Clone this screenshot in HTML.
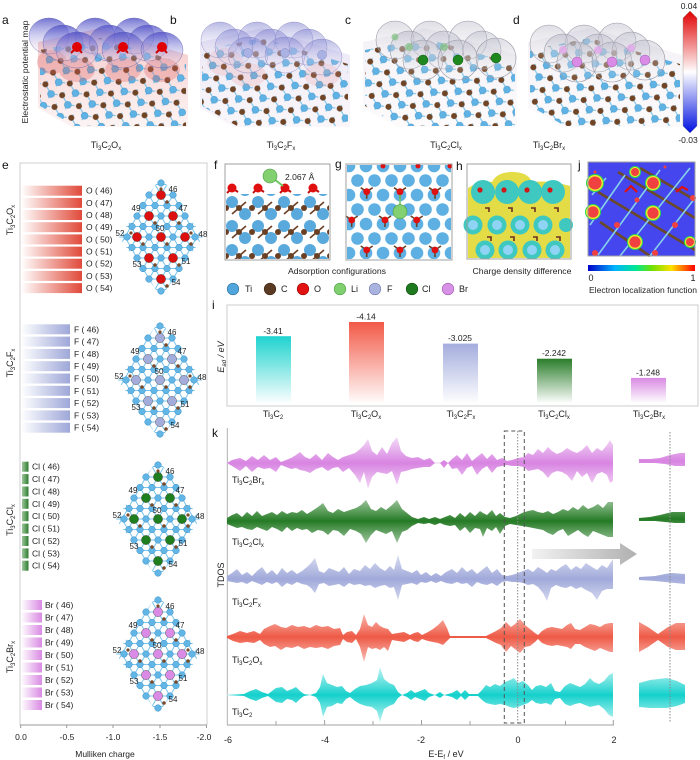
<!DOCTYPE html>
<html><head><meta charset="utf-8"><style>
html,body{margin:0;padding:0;background:#fff;}
svg{display:block;font-family:"Liberation Sans",Arial,sans-serif;}
</style></head><body>
<svg width="700" height="760" viewBox="0 0 700 760" xmlns="http://www.w3.org/2000/svg">
<defs>
<pattern id="slab" width="20" height="14" patternUnits="userSpaceOnUse" patternTransform="rotate(33)">
<path d="M4,4 L14,9 L24,4 M14,9 L14,18 M4,4 L4,-5" stroke="#79c3ec" stroke-width="1.2" fill="none"/>
<circle cx="4" cy="4" r="3" fill="#6f4527"/>
<circle cx="14" cy="9" r="3.5" fill="#5fb2e4" stroke="#3b8cc2" stroke-width="0.5"/>
</pattern>
<pattern id="fside" width="26" height="24" patternUnits="userSpaceOnUse" patternTransform="translate(226,196)">
<path d="M6,6 L13,12 L19,18 M20,6 L13,12 L6,18" stroke="#6a4025" stroke-width="1.6" fill="none"/>
<circle cx="6" cy="6" r="6" fill="#5aa9dc"/>
<circle cx="19" cy="18" r="6" fill="#5aa9dc"/>
<circle cx="13" cy="12" r="3" fill="#6a4025"/>
<circle cx="0" cy="12" r="3" fill="#6a4025"/>
<circle cx="26" cy="12" r="3" fill="#6a4025"/>
</pattern>
<pattern id="gtop" width="17" height="29" patternUnits="userSpaceOnUse" patternTransform="translate(349,166)">
<circle cx="0" cy="0" r="6.3" fill="#5fb0e2"/>
<circle cx="17" cy="0" r="6.3" fill="#5fb0e2"/>
<circle cx="0" cy="29" r="6.3" fill="#5fb0e2"/>
<circle cx="17" cy="29" r="6.3" fill="#5fb0e2"/>
<circle cx="8.5" cy="14.5" r="6.3" fill="#5fb0e2"/>
</pattern>
<linearGradient id="archA" x1="0" y1="0" x2="0" y2="1">
<stop offset="0" stop-color="#5050c8" stop-opacity="0.8"/><stop offset="0.5" stop-color="#9a9ae0" stop-opacity="0.45"/><stop offset="1" stop-color="#f0c0c8" stop-opacity="0.1"/></linearGradient>
<linearGradient id="archB" x1="0" y1="0" x2="0" y2="1">
<stop offset="0" stop-color="#8080d0" stop-opacity="0.55"/><stop offset="0.5" stop-color="#b8b8e6" stop-opacity="0.3"/><stop offset="1" stop-color="#f0dce6" stop-opacity="0.08"/></linearGradient>
<linearGradient id="archC" x1="0" y1="0" x2="0" y2="1">
<stop offset="0" stop-color="#b4b4c4" stop-opacity="0.45"/><stop offset="0.6" stop-color="#d8d8e0" stop-opacity="0.25"/><stop offset="1" stop-color="#f0f0f0" stop-opacity="0.05"/></linearGradient>
<linearGradient id="hazeA" x1="0" y1="0" x2="0" y2="1"><stop offset="0" stop-color="#e87878" stop-opacity="0.45"/><stop offset="1" stop-color="#f4d0d0" stop-opacity="0.25"/></linearGradient>
<linearGradient id="hazeB" x1="0" y1="0" x2="0" y2="1"><stop offset="0" stop-color="#c8c0e8" stop-opacity="0.4"/><stop offset="1" stop-color="#eadcea" stop-opacity="0.25"/></linearGradient>
<linearGradient id="hazeC" x1="0" y1="0" x2="0" y2="1"><stop offset="0" stop-color="#ddd6e4" stop-opacity="0.35"/><stop offset="1" stop-color="#efe6ea" stop-opacity="0.2"/></linearGradient>
<linearGradient id="cbar" x1="0" y1="0" x2="0" y2="1">
<stop offset="0" stop-color="#e00000"/><stop offset="0.5" stop-color="#ffffff"/><stop offset="1" stop-color="#0010e0"/></linearGradient>
<linearGradient id="rainbow" x1="0" y1="0" x2="1" y2="0">
<stop offset="0" stop-color="#0000c8"/><stop offset="0.25" stop-color="#00b4ff"/><stop offset="0.45" stop-color="#00e890"/><stop offset="0.6" stop-color="#70e000"/><stop offset="0.78" stop-color="#ffe000"/><stop offset="1" stop-color="#ff0000"/></linearGradient>
<linearGradient id="barO" x1="0" y1="0" x2="1" y2="0"><stop offset="0" stop-color="#e04a3a" stop-opacity="0"/><stop offset="1" stop-color="#e04a3a"/></linearGradient>
<linearGradient id="barF" x1="0" y1="0" x2="1" y2="0"><stop offset="0" stop-color="#9ea7d8" stop-opacity="0"/><stop offset="1" stop-color="#9ea7d8"/></linearGradient>
<linearGradient id="barCl" x1="0" y1="0" x2="1" y2="0"><stop offset="0" stop-color="#3c8c3c" stop-opacity="0.5"/><stop offset="1" stop-color="#2a7a2a"/></linearGradient>
<linearGradient id="barBr" x1="0" y1="0" x2="1" y2="0"><stop offset="0" stop-color="#d98ae3" stop-opacity="0"/><stop offset="1" stop-color="#d98ae3"/></linearGradient>
<linearGradient id="vTi" x1="0" y1="0" x2="0" y2="1"><stop offset="0" stop-color="#1fd3cf"/><stop offset="1" stop-color="#1fd3cf" stop-opacity="0.03"/></linearGradient>
<linearGradient id="vO" x1="0" y1="0" x2="0" y2="1"><stop offset="0" stop-color="#f25a48"/><stop offset="1" stop-color="#f25a48" stop-opacity="0.03"/></linearGradient>
<linearGradient id="vF" x1="0" y1="0" x2="0" y2="1"><stop offset="0" stop-color="#a4addd"/><stop offset="1" stop-color="#a4addd" stop-opacity="0.03"/></linearGradient>
<linearGradient id="vCl" x1="0" y1="0" x2="0" y2="1"><stop offset="0" stop-color="#2a7d2a"/><stop offset="1" stop-color="#2a7d2a" stop-opacity="0.03"/></linearGradient>
<linearGradient id="vBr" x1="0" y1="0" x2="0" y2="1"><stop offset="0" stop-color="#d98ae3"/><stop offset="1" stop-color="#d98ae3" stop-opacity="0.05"/></linearGradient>
<linearGradient id="dBr" gradientUnits="userSpaceOnUse" x1="0" y1="-26" x2="0" y2="26"><stop offset="0" stop-color="#dc90e4" stop-opacity="0.35"/><stop offset="0.5" stop-color="#d884e2"/><stop offset="1" stop-color="#dc90e4" stop-opacity="0.35"/></linearGradient>
<linearGradient id="dCl" gradientUnits="userSpaceOnUse" x1="0" y1="-24" x2="0" y2="24"><stop offset="0" stop-color="#3a8a3a" stop-opacity="0.45"/><stop offset="0.5" stop-color="#247a24"/><stop offset="1" stop-color="#3a8a3a" stop-opacity="0.45"/></linearGradient>
<linearGradient id="dF" gradientUnits="userSpaceOnUse" x1="0" y1="-26" x2="0" y2="26"><stop offset="0" stop-color="#a8b0de" stop-opacity="0.4"/><stop offset="0.5" stop-color="#a0a9da"/><stop offset="1" stop-color="#a8b0de" stop-opacity="0.4"/></linearGradient>
<linearGradient id="dO" gradientUnits="userSpaceOnUse" x1="0" y1="-26" x2="0" y2="26"><stop offset="0" stop-color="#f07060" stop-opacity="0.45"/><stop offset="0.5" stop-color="#ee5a46"/><stop offset="1" stop-color="#f07060" stop-opacity="0.45"/></linearGradient>
<linearGradient id="dTi" gradientUnits="userSpaceOnUse" x1="0" y1="-28" x2="0" y2="28"><stop offset="0" stop-color="#40dcd8" stop-opacity="0.35"/><stop offset="0.5" stop-color="#14d0cc"/><stop offset="1" stop-color="#40dcd8" stop-opacity="0.35"/></linearGradient>
<linearGradient id="arrowG" x1="0" y1="0" x2="1" y2="0"><stop offset="0" stop-color="#f2f2f2"/><stop offset="1" stop-color="#b0b0b0"/></linearGradient>
<clipPath id="dia"><polygon points="0,-60 42,0 0,60 -42,0"/></clipPath>
<g id="lat">
<path clip-path="url(#dia)" stroke="#78c4ec" stroke-width="1" fill="none" d="M-45,-52.5H45M-45,-42H45M-45,-31.5H45M-45,-21H45M-45,-10.5H45M-45,0H45M-45,10.5H45M-45,21H45M-45,31.5H45M-45,42H45M-45,52.5H45
M-108,-63L-36,63M-36,-63L-108,63M-96,-63L-24,63M-24,-63L-96,63M-84,-63L-12,63M-12,-63L-84,63M-72,-63L0,63M0,-63L-72,63M-60,-63L12,63M12,-63L-60,63M-48,-63L24,63M24,-63L-48,63M-36,-63L36,63M36,-63L-36,63M-24,-63L48,63M48,-63L-24,63M-12,-63L60,63M60,-63L-12,63M0,-63L72,63M72,-63L0,63M12,-63L84,63M84,-63L12,63M24,-63L96,63M96,-63L24,63M36,-63L108,63M108,-63L36,63"/>
<g fill="#62b6e6" stroke="#3d8fc4" stroke-width="0.5">
<circle cx="0" cy="0" r="3.3"/><circle cx="12" cy="0" r="3.3"/><circle cx="-12" cy="0" r="3.3"/><circle cx="24" cy="0" r="3.3"/><circle cx="-24" cy="0" r="3.3"/><circle cx="34" cy="0" r="3.3"/><circle cx="-34" cy="0" r="3.3"/>
<circle cx="6" cy="10.5" r="3.3"/><circle cx="-6" cy="10.5" r="3.3"/><circle cx="18" cy="10.5" r="3.3"/><circle cx="-18" cy="10.5" r="3.3"/><circle cx="29" cy="10.5" r="3.3"/><circle cx="-29" cy="10.5" r="3.3"/>
<circle cx="6" cy="-10.5" r="3.3"/><circle cx="-6" cy="-10.5" r="3.3"/><circle cx="18" cy="-10.5" r="3.3"/><circle cx="-18" cy="-10.5" r="3.3"/><circle cx="29" cy="-10.5" r="3.3"/><circle cx="-29" cy="-10.5" r="3.3"/>
<circle cx="0" cy="21" r="3.3"/><circle cx="12" cy="21" r="3.3"/><circle cx="-12" cy="21" r="3.3"/><circle cx="24" cy="21" r="3.3"/><circle cx="-24" cy="21" r="3.3"/>
<circle cx="0" cy="-21" r="3.3"/><circle cx="12" cy="-21" r="3.3"/><circle cx="-12" cy="-21" r="3.3"/><circle cx="24" cy="-21" r="3.3"/><circle cx="-24" cy="-21" r="3.3"/>
<circle cx="6" cy="31.5" r="3.3"/><circle cx="-6" cy="31.5" r="3.3"/><circle cx="18" cy="31.5" r="3.3"/><circle cx="-18" cy="31.5" r="3.3"/>
<circle cx="6" cy="-31.5" r="3.3"/><circle cx="-6" cy="-31.5" r="3.3"/><circle cx="18" cy="-31.5" r="3.3"/><circle cx="-18" cy="-31.5" r="3.3"/>
<circle cx="0" cy="42" r="3.3"/><circle cx="12" cy="42" r="3.3"/><circle cx="-12" cy="42" r="3.3"/>
<circle cx="0" cy="-42" r="3.3"/><circle cx="12" cy="-42" r="3.3"/><circle cx="-12" cy="-42" r="3.3"/>
<circle cx="0" cy="54" r="3.3"/><circle cx="0" cy="-54" r="3.3"/>
</g>
<g fill="#7a4a2a">
<circle cx="6" cy="-35" r="1.8"/><circle cx="-6" cy="-14" r="1.8"/><circle cx="18" cy="-14" r="1.8"/><circle cx="-18" cy="7" r="1.8"/><circle cx="6" cy="7" r="1.8"/><circle cx="30" cy="7" r="1.8"/><circle cx="-6" cy="28" r="1.8"/><circle cx="18" cy="28" r="1.8"/><circle cx="6" cy="49" r="1.8"/>
<circle cx="0" cy="-48" r="1.6"/><circle cx="-30" cy="-4" r="1.6"/><circle cx="30" cy="-4" r="1.6"/>
</g>
</g>
<g id="sites" stroke="#333" stroke-width="0.4">
<circle cx="0" cy="-42" r="4.6"/><circle cx="-12" cy="-21" r="4.6"/><circle cx="12" cy="-21" r="4.6"/><circle cx="-24" cy="0" r="4.6"/><circle cx="0" cy="0" r="4.6"/><circle cx="24" cy="0" r="4.6"/><circle cx="-12" cy="21" r="4.6"/><circle cx="12" cy="21" r="4.6"/><circle cx="0" cy="42" r="4.6"/>
</g>
<g id="nums" font-size="8" fill="#222" text-anchor="middle">
<text x="12" y="-45">46</text><text x="22" y="-26">47</text><text x="-25" y="-26">49</text><text x="-41" y="-1">52</text><text x="-1" y="-6">50</text><text x="42" y="0">48</text><text x="-24" y="30">53</text><text x="25" y="27">51</text><text x="15" y="48">54</text>
</g>
</defs>

<!-- ===== Top row a-d ===== -->
<g font-size="12" fill="#111">
<text x="2" y="24">a</text><text x="170" y="24">b</text><text x="345" y="24">c</text><text x="513" y="24">d</text>
</g>
<text transform="translate(28,72) rotate(-90)" text-anchor="middle" font-size="8.3" fill="#222" textLength="103" lengthAdjust="spacingAndGlyphs">Electrostatic potential map</text>

<!-- panel a -->
<g>
<polygon points="38,42 100,28 188,55 188,127 72,127 38,108" fill="url(#hazeA)"/>
<polygon points="40,50 100,38 186,64 186,126 75,126 40,106" fill="url(#slab)"/>
<g fill="#e06060" opacity="0.3"><ellipse cx="77" cy="70" rx="18" ry="12"/><ellipse cx="123" cy="70" rx="18" ry="12"/><ellipse cx="162" cy="70" rx="18" ry="12"/><ellipse cx="52" cy="62" rx="15" ry="12"/></g>
<g fill="url(#archA)" stroke="#6060b0" stroke-width="0.4">
<ellipse cx="49" cy="36" rx="20" ry="18"/><ellipse cx="95" cy="36" rx="20" ry="18"/><ellipse cx="134" cy="36" rx="20" ry="18"/>
<ellipse cx="63" cy="43" rx="20" ry="18"/><ellipse cx="109" cy="43" rx="20" ry="18"/><ellipse cx="148" cy="43" rx="20" ry="18"/>
<ellipse cx="77" cy="50" rx="21" ry="18"/><ellipse cx="123" cy="50" rx="21" ry="18"/><ellipse cx="162" cy="50" rx="21" ry="18"/>
</g>
<g stroke="#c00" stroke-width="2"><path d="M77,47 l-6,6 M77,47 l5,6 M123,47 l-6,6 M123,47 l5,6 M162,47 l-6,6 M162,47 l5,6"/></g>
<g fill="#e00000"><circle cx="77" cy="47" r="5"/><circle cx="123" cy="47" r="5"/><circle cx="162" cy="47" r="5"/></g>
</g>
<!-- panel b -->
<g>
<polygon points="200,42 262,28 350,55 350,127 234,127 200,108" fill="url(#hazeB)"/>
<polygon points="202,50 262,38 348,64 348,126 237,126 202,106" fill="url(#slab)"/>
<g fill="#e89090" opacity="0.2"><ellipse cx="225" cy="62" rx="18" ry="14"/><ellipse cx="248" cy="75" rx="18" ry="12"/><ellipse cx="322" cy="75" rx="18" ry="12"/></g>
<g fill="url(#archB)" stroke="#8080c0" stroke-width="0.4">
<ellipse cx="220" cy="40" rx="19" ry="18"/><ellipse cx="257" cy="40" rx="19" ry="18"/><ellipse cx="294" cy="40" rx="19" ry="18"/>
<ellipse cx="234" cy="47" rx="19" ry="18"/><ellipse cx="271" cy="47" rx="19" ry="18"/><ellipse cx="308" cy="47" rx="19" ry="18"/>
<ellipse cx="248" cy="55" rx="20" ry="18"/><ellipse cx="285" cy="55" rx="20" ry="18"/><ellipse cx="322" cy="57" rx="20" ry="18"/>
</g>
<g fill="#a9b2e2" stroke="#7f88c0" stroke-width="0.5"><circle cx="248" cy="53" r="4.5"/><circle cx="285" cy="53" r="4.5"/><circle cx="322" cy="55" r="4.5"/></g>
</g>
<!-- panel c -->
<g>
<polygon points="363,42 425,28 517,55 517,127 398,127 363,108" fill="url(#hazeC)"/>
<polygon points="365,50 425,38 515,64 515,126 400,126 365,106" fill="url(#slab)"/>
<g fill="url(#archC)" stroke="#9a9aa8" stroke-width="0.6">
<ellipse cx="395" cy="40" rx="19" ry="19"/><ellipse cx="430" cy="40" rx="19" ry="19"/><ellipse cx="468" cy="40" rx="19" ry="19"/>
<ellipse cx="409" cy="50" rx="19" ry="19"/><ellipse cx="444" cy="50" rx="19" ry="19"/><ellipse cx="482" cy="50" rx="19" ry="19"/>
<ellipse cx="423" cy="60" rx="20" ry="20"/><ellipse cx="458" cy="60" rx="20" ry="20"/><ellipse cx="496" cy="58" rx="20" ry="20"/>
</g>
<g fill="#7fc07f" opacity="0.7"><circle cx="409" cy="47" r="4"/><circle cx="444" cy="47" r="4"/><circle cx="395" cy="37" r="3.5"/></g>
<g fill="#1e871e" stroke="#0d5a0d" stroke-width="0.5"><circle cx="423" cy="60" r="5"/><circle cx="458" cy="60" r="5"/><circle cx="496" cy="58" r="5"/></g>
</g>
<!-- panel d -->
<g>
<polygon points="528,42 590,28 682,55 682,127 563,127 528,108" fill="url(#hazeC)"/>
<polygon points="530,50 590,38 680,64 680,126 565,126 530,106" fill="url(#slab)"/>
<g fill="url(#archC)" stroke="#9a9aa8" stroke-width="0.6">
<ellipse cx="549" cy="44" rx="19" ry="19"/><ellipse cx="584" cy="44" rx="19" ry="19"/><ellipse cx="617" cy="42" rx="19" ry="19"/>
<ellipse cx="563" cy="53" rx="19" ry="19"/><ellipse cx="598" cy="53" rx="19" ry="19"/><ellipse cx="631" cy="51" rx="19" ry="19"/>
<ellipse cx="577" cy="62" rx="20" ry="20"/><ellipse cx="612" cy="62" rx="20" ry="20"/><ellipse cx="645" cy="60" rx="20" ry="20"/>
</g>
<g fill="#e4a8ec" opacity="0.8"><circle cx="563" cy="50" r="4"/><circle cx="598" cy="50" r="4"/><circle cx="631" cy="48" r="4"/></g>
<g fill="#d98be6" stroke="#a05aa8" stroke-width="0.5"><circle cx="577" cy="62" r="5"/><circle cx="612" cy="62" r="5"/><circle cx="645" cy="60" r="5"/></g>
</g>
<!-- labels -->
<g font-size="9" fill="#222" text-anchor="middle">
<text x="106" y="148">Ti<tspan font-size="6" dy="2">3</tspan><tspan dy="-2">C</tspan><tspan font-size="6" dy="2">2</tspan><tspan dy="-2">O</tspan><tspan font-size="6" dy="2">x</tspan></text>
<text x="281" y="148">Ti<tspan font-size="6" dy="2">3</tspan><tspan dy="-2">C</tspan><tspan font-size="6" dy="2">2</tspan><tspan dy="-2">F</tspan><tspan font-size="6" dy="2">x</tspan></text>
<text x="446" y="148">Ti<tspan font-size="6" dy="2">3</tspan><tspan dy="-2">C</tspan><tspan font-size="6" dy="2">2</tspan><tspan dy="-2">Cl</tspan><tspan font-size="6" dy="2">x</tspan></text>
<text x="549" y="148">Ti<tspan font-size="6" dy="2">3</tspan><tspan dy="-2">C</tspan><tspan font-size="6" dy="2">2</tspan><tspan dy="-2">Br</tspan><tspan font-size="6" dy="2">x</tspan></text>
</g>
<!-- colorbar -->
<path d="M683,18 L690,11 L697,18 L697,126 L690,133 L683,126 Z" fill="url(#cbar)" stroke="#888" stroke-width="0.4"/>
<g font-size="8.5" fill="#222" text-anchor="middle"><text x="689" y="9">0.04</text><text x="688" y="143">-0.03</text></g>

<!-- ===== Panel e ===== -->
<text x="2" y="169" font-size="12" fill="#111">e</text>
<path d="M20,725 V163 H207 V725" fill="none" stroke="#cfcfcf" stroke-width="1"/>
<line x1="20" y1="725" x2="207" y2="725" stroke="#9a9a9a" stroke-width="1"/>
<g stroke="#9a9a9a" stroke-width="1"><line x1="20.7" y1="725" x2="20.7" y2="728"/><line x1="66.7" y1="725" x2="66.7" y2="728"/><line x1="113" y1="725" x2="113" y2="728"/><line x1="160" y1="725" x2="160" y2="728"/><line x1="206.5" y1="725" x2="206.5" y2="728"/></g>
<g font-size="8.5" fill="#222" text-anchor="middle"><text x="21" y="740">0.0</text><text x="67" y="740">-0.5</text><text x="113" y="740">-1.0</text><text x="160" y="740">-1.5</text><text x="204" y="740">-2.0</text></g>
<text x="105" y="757" font-size="8.5" fill="#222" text-anchor="middle">Mulliken charge</text>

<g font-size="9" fill="#222" text-anchor="middle">
<text transform="translate(13,220) rotate(-90)">Ti<tspan font-size="6" dy="2">3</tspan><tspan dy="-2">C</tspan><tspan font-size="6" dy="2">2</tspan><tspan dy="-2">O</tspan><tspan font-size="6" dy="2">x</tspan></text>
<text transform="translate(13,363) rotate(-90)">Ti<tspan font-size="6" dy="2">3</tspan><tspan dy="-2">C</tspan><tspan font-size="6" dy="2">2</tspan><tspan dy="-2">F</tspan><tspan font-size="6" dy="2">x</tspan></text>
<text transform="translate(13,520) rotate(-90)">Ti<tspan font-size="6" dy="2">3</tspan><tspan dy="-2">C</tspan><tspan font-size="6" dy="2">2</tspan><tspan dy="-2">Cl</tspan><tspan font-size="6" dy="2">x</tspan></text>
<text transform="translate(13,657) rotate(-90)">Ti<tspan font-size="6" dy="2">3</tspan><tspan dy="-2">C</tspan><tspan font-size="6" dy="2">2</tspan><tspan dy="-2">Br</tspan><tspan font-size="6" dy="2">x</tspan></text>
</g>

<!-- O bars -->
<g fill="url(#barO)">
<rect x="21" y="185.7" width="61" height="10"/><rect x="21" y="197.9" width="61" height="10"/><rect x="21" y="210" width="61" height="10"/><rect x="21" y="222.2" width="61" height="10"/><rect x="21" y="234.4" width="61" height="10"/><rect x="21" y="246.6" width="61" height="10"/><rect x="21" y="258.7" width="61" height="10"/><rect x="21" y="270.9" width="61" height="10"/><rect x="21" y="283.1" width="61" height="10"/>
</g>
<g font-size="8.5" fill="#222">
<text x="86" y="193.7">O ( 46)</text><text x="86" y="205.9">O ( 47)</text><text x="86" y="218">O ( 48)</text><text x="86" y="230.2">O ( 49)</text><text x="86" y="242.4">O ( 50)</text><text x="86" y="254.6">O ( 51)</text><text x="86" y="266.7">O ( 52)</text><text x="86" y="278.9">O ( 53)</text><text x="86" y="291.1">O ( 54)</text>
</g>
<!-- F bars -->
<g fill="url(#barF)">
<rect x="21" y="324.3" width="49" height="10"/><rect x="21" y="336.6" width="49" height="10"/><rect x="21" y="348.9" width="49" height="10"/><rect x="21" y="361.2" width="49" height="10"/><rect x="21" y="373.5" width="49" height="10"/><rect x="21" y="385.8" width="49" height="10"/><rect x="21" y="398.1" width="49" height="10"/><rect x="21" y="410.4" width="49" height="10"/><rect x="21" y="422.7" width="49" height="10"/>
</g>
<g font-size="8.5" fill="#222">
<text x="74" y="332.3">F ( 46)</text><text x="74" y="344.6">F ( 47)</text><text x="74" y="356.9">F ( 48)</text><text x="74" y="369.2">F ( 49)</text><text x="74" y="381.5">F ( 50)</text><text x="74" y="393.8">F ( 51)</text><text x="74" y="406.1">F ( 52)</text><text x="74" y="418.4">F ( 53)</text><text x="74" y="430.7">F ( 54)</text>
</g>
<!-- Cl bars -->
<g fill="url(#barCl)">
<rect x="22" y="461.7" width="6.5" height="10"/><rect x="22" y="474.1" width="6.5" height="10"/><rect x="22" y="486.5" width="6.5" height="10"/><rect x="22" y="498.8" width="6.5" height="10"/><rect x="22" y="511.2" width="6.5" height="10"/><rect x="22" y="523.6" width="6.5" height="10"/><rect x="22" y="536" width="6.5" height="10"/><rect x="22" y="548.4" width="6.5" height="10"/><rect x="22" y="560.7" width="6.5" height="10"/>
</g>
<g font-size="8.5" fill="#222">
<text x="32" y="469.7">Cl ( 46)</text><text x="32" y="482.1">Cl ( 47)</text><text x="32" y="494.5">Cl ( 48)</text><text x="32" y="506.8">Cl ( 49)</text><text x="32" y="519.2">Cl ( 50)</text><text x="32" y="531.6">Cl ( 51)</text><text x="32" y="544">Cl ( 52)</text><text x="32" y="556.4">Cl ( 53)</text><text x="32" y="568.7">Cl ( 54)</text>
</g>
<!-- Br bars -->
<g fill="url(#barBr)">
<rect x="21" y="600" width="21" height="10"/><rect x="21" y="612.5" width="21" height="10"/><rect x="21" y="625" width="21" height="10"/><rect x="21" y="637.5" width="21" height="10"/><rect x="21" y="650" width="21" height="10"/><rect x="21" y="662.5" width="21" height="10"/><rect x="21" y="675" width="21" height="10"/><rect x="21" y="687.5" width="21" height="10"/><rect x="21" y="700" width="21" height="10"/>
</g>
<g font-size="8.5" fill="#222">
<text x="45" y="608">Br ( 46)</text><text x="45" y="620.5">Br ( 47)</text><text x="45" y="633">Br ( 48)</text><text x="45" y="645.5">Br ( 49)</text><text x="45" y="658">Br ( 50)</text><text x="45" y="670.5">Br ( 51)</text><text x="45" y="683">Br ( 52)</text><text x="45" y="695.5">Br ( 53)</text><text x="45" y="708">Br ( 54)</text>
</g>
<!-- lattices -->
<g transform="translate(161,237)"><use href="#lat"/><use href="#sites" fill="#dd1010"/><use href="#nums"/></g>
<g transform="translate(160,380)"><use href="#lat"/><use href="#sites" fill="#a4acdc"/><use href="#nums"/></g>
<g transform="translate(158,519)"><use href="#lat"/><use href="#sites" fill="#1f7f1f"/><use href="#nums"/></g>
<g transform="translate(158,654)"><use href="#lat"/><use href="#sites" fill="#d98be6"/><use href="#nums"/></g>

<!-- ===== Panels f g h j ===== -->
<g font-size="12" fill="#111">
<text x="214" y="169">f</text><text x="335" y="168">g</text><text x="456" y="170">h</text><text x="578" y="169">j</text>
</g>
<!-- f -->
<rect x="225" y="164" width="105" height="96" fill="#fff"/>
<rect x="226" y="194" width="103" height="65" fill="url(#fside)"/>
<g stroke="#c01010" stroke-width="2"><path d="M232,188 l-5,5 M232,188 l6,4 M258,188 l-5,5 M258,188 l6,4 M285,188 l-5,5 M285,188 l6,4 M313,188 l-5,5 M313,188 l6,4"/></g>
<g fill="#e01010"><circle cx="232" cy="188" r="4.5"/><circle cx="258" cy="188" r="4.5"/><circle cx="285" cy="188" r="4.5"/><circle cx="313" cy="188" r="4.5"/></g>
<line x1="270" y1="176" x2="283" y2="186" stroke="#6cc860" stroke-width="2"/>
<circle cx="270" cy="176" r="7" fill="#82d070" stroke="#4a9a40" stroke-width="0.6"/>
<text x="285" y="180" font-size="8.5" fill="#222">2.067 Å</text>
<rect x="225" y="164" width="105" height="96" fill="none" stroke="#a0a0a0" stroke-width="1"/>
<!-- g -->
<rect x="346" y="164" width="106" height="96" fill="#fff"/>
<rect x="347" y="165" width="104" height="94" fill="url(#gtop)"/>
<g stroke="#6a4025" stroke-width="1.6">
<path d="M366.7,191.7 l-6,-4 m6,4 l6,-4 m-6,4 l0,7 M400,191.7 l-6,-4 m6,4 l6,-4 m-6,4 l0,7 M435,191.7 l-6,-4 m6,4 l6,-4 m-6,4 l0,7 M351.7,220 l-6,-4 m6,4 l6,-4 m-6,4 l0,7 M385,220 l-6,-4 m6,4 l6,-4 m-6,4 l0,7 M416.7,220 l-6,-4 m6,4 l6,-4 m-6,4 l0,7 M366.7,250 l-6,-4 m6,4 l6,-4 m-6,4 l0,7 M400,250 l-6,-4 m6,4 l6,-4 m-6,4 l0,7 M435,250 l-6,-4 m6,4 l6,-4 m-6,4 l0,7"/>
</g>
<g fill="#e01010"><circle cx="366.7" cy="191.7" r="3.4"/><circle cx="400" cy="191.7" r="3.4"/><circle cx="435" cy="191.7" r="3.4"/><circle cx="351.7" cy="220" r="3.4"/><circle cx="385" cy="220" r="3.4"/><circle cx="416.7" cy="220" r="3.4"/><circle cx="366.7" cy="250" r="3.4"/><circle cx="400" cy="250" r="3.4"/><circle cx="435" cy="250" r="3.4"/><circle cx="383" cy="166" r="2.5"/><circle cx="418" cy="166" r="2.5"/><circle cx="450" cy="166" r="2.5"/></g>
<line x1="400" y1="211" x2="400" y2="195" stroke="#6cc860" stroke-width="1.5"/>
<circle cx="400" cy="211.7" r="7" fill="#82d070" stroke="#4a9a40" stroke-width="0.6"/>
<rect x="346" y="164" width="106" height="96" fill="none" stroke="#a0a0a0" stroke-width="1"/>
<!-- h -->
<rect x="467" y="164" width="104" height="95" fill="#fff"/>
<path d="M468,258 L468,188 Q480,180 492,182 Q497,172 512,172 Q528,172 532,182 Q550,180 570,186 L570,258 Z" fill="#e4dc46"/>
<g fill="#3ec8c0"><circle cx="483" cy="192" r="12"/><circle cx="507" cy="192" r="12"/><circle cx="530" cy="192" r="12"/><circle cx="553" cy="192" r="12"/>
<circle cx="473" cy="225" r="9.5"/><circle cx="497" cy="225" r="9.5"/><circle cx="520" cy="225" r="9.5"/><circle cx="543" cy="225" r="9.5"/><circle cx="566" cy="225" r="7"/>
<circle cx="485" cy="250" r="9.5"/><circle cx="508" cy="250" r="9.5"/><circle cx="532" cy="250" r="9.5"/><circle cx="555" cy="250" r="9.5"/></g>
<g fill="#8fd4f4"><circle cx="473" cy="225" r="5"/><circle cx="497" cy="225" r="5"/><circle cx="520" cy="225" r="5"/><circle cx="543" cy="225" r="5"/><circle cx="485" cy="250" r="5"/><circle cx="508" cy="250" r="5"/><circle cx="532" cy="250" r="5"/><circle cx="555" cy="250" r="5"/></g>
<g fill="#d01818"><circle cx="480" cy="190" r="2.6"/><circle cx="504" cy="190" r="2.6"/><circle cx="527" cy="190" r="2.6"/><circle cx="550" cy="190" r="2.6"/></g>
<g fill="none" stroke="#6a3020" stroke-width="1.6"><path d="M485,208 h4 v4 M508,208 h4 v4 M531,208 h4 v4 M554,208 h4 v4 M487,237 h4 v4 M510,237 h4 v4 M533,237 h4 v4 M556,237 h4 v4"/></g>
<rect x="467" y="164" width="104" height="95" fill="none" stroke="#a0a0a0" stroke-width="1"/>
<!-- j -->
<rect x="588" y="162" width="107" height="94" fill="#4646ee"/>
<g stroke-width="2.6" fill="none">
<path stroke="#6a4a2a" d="M598,192 L695,250 M600,222 L650,256 M618,172 L695,218 M640,168 L695,200"/>
<path stroke="#86d0ea" stroke-width="1.6" d="M598,255 L660,170 M620,256 L690,168 M650,256 L695,198 M590,225 L625,175 M592,195 L606,178"/>
</g>
<g>
<g fill="#2ad850"><circle cx="595" cy="183" r="9"/><circle cx="653" cy="183" r="8"/><circle cx="593" cy="212" r="8"/><circle cx="653" cy="213" r="8"/><circle cx="635" cy="242" r="8"/><circle cx="690" cy="242" r="6"/><circle cx="635" cy="172" r="6"/></g>
<g fill="#f0e830"><circle cx="595" cy="183" r="8"/><circle cx="653" cy="183" r="7"/><circle cx="593" cy="212" r="7"/><circle cx="653" cy="213" r="7"/><circle cx="635" cy="242" r="7"/><circle cx="690" cy="242" r="5"/><circle cx="635" cy="172" r="5"/></g>
<g fill="#f04040"><circle cx="595" cy="183" r="6.5"/><circle cx="653" cy="183" r="5.8"/><circle cx="593" cy="212" r="5.6"/><circle cx="653" cy="213" r="5.6"/><circle cx="635" cy="242" r="5.6"/><circle cx="690" cy="242" r="4"/><circle cx="635" cy="172" r="4"/>
<circle cx="617" cy="225" r="3"/><circle cx="675" cy="225" r="3"/><circle cx="595" cy="253" r="3"/><circle cx="655" cy="253" r="3"/><circle cx="693" cy="198" r="3"/><circle cx="637" cy="200" r="2.5"/><circle cx="665" cy="167" r="1.5"/><circle cx="595" cy="172" r="1.5"/></g>
<path d="M625,192 l6,-6 l6,6 M676,192 l6,-5 l6,3" stroke="#e01010" stroke-width="2.2" fill="none"/>
</g>
<rect x="588" y="162" width="107" height="94" fill="none" stroke="#a0a0a0" stroke-width="1"/>
<rect x="588" y="265" width="107" height="6" fill="url(#rainbow)"/>
<g font-size="9" fill="#222" text-anchor="middle"><text x="591" y="281">0</text><text x="693" y="281">1</text></g>
<text x="643" y="293" font-size="8.2" fill="#222" text-anchor="middle" textLength="108" lengthAdjust="spacingAndGlyphs">Electron localization function</text>
<text x="337" y="274" font-size="8.2" fill="#222" text-anchor="middle" textLength="98" lengthAdjust="spacingAndGlyphs">Adsorption configurations</text>
<text x="522" y="274" font-size="8.2" fill="#222" text-anchor="middle" textLength="99" lengthAdjust="spacingAndGlyphs">Charge density difference</text>
<!-- legend -->
<g stroke-width="0.6">
<circle cx="233" cy="289" r="5.8" fill="#4fa5dc" stroke="#2d6f9a"/>
<circle cx="270" cy="289" r="5.8" fill="#5a3a22" stroke="#3a2412"/>
<circle cx="303" cy="289" r="5.8" fill="#e21212" stroke="#900"/>
<circle cx="340" cy="289" r="5.8" fill="#80d070" stroke="#4a9a40"/>
<circle cx="375" cy="289" r="5.8" fill="#aab2e0" stroke="#7078a8"/>
<circle cx="412" cy="289" r="5.8" fill="#1f7a1f" stroke="#0d4a0d"/>
<circle cx="448" cy="289" r="5.8" fill="#d891e6" stroke="#9a58a8"/>
</g>
<g font-size="9" fill="#222">
<text x="245" y="292">Ti</text><text x="281" y="292">C</text><text x="314" y="292">O</text><text x="351" y="292">Li</text><text x="387" y="292">F</text><text x="422" y="292">Cl</text><text x="459" y="292">Br</text>
</g>

<!-- ===== Panel i ===== -->
<text x="212" y="309" font-size="12" fill="#111">i</text>
<rect x="227" y="305" width="471" height="101" fill="none" stroke="#cccccc" stroke-width="1"/>
<text transform="translate(224,357) rotate(-90)" font-size="9" fill="#222" text-anchor="middle" font-style="italic">E<tspan font-size="6" dy="2">ad</tspan><tspan dy="-2"> / eV</tspan></text>
<rect x="256" y="336.2" width="35" height="65.8" fill="url(#vTi)"/>
<rect x="349" y="322" width="35" height="80" fill="url(#vO)"/>
<rect x="443" y="343.6" width="35" height="58.4" fill="url(#vF)"/>
<rect x="537" y="358.7" width="35" height="43.3" fill="url(#vCl)"/>
<rect x="631" y="377.9" width="35" height="24.1" fill="url(#vBr)"/>
<g font-size="8.5" fill="#222" text-anchor="middle">
<text x="273" y="334">-3.41</text><text x="366" y="319.5">-4.14</text><text x="460" y="341">-3.025</text><text x="554" y="356">-2.242</text><text x="648" y="375.5">-1.248</text>
</g>
<g font-size="9" fill="#222" text-anchor="middle">
<text x="273" y="417">Ti<tspan font-size="6" dy="2">3</tspan><tspan dy="-2">C</tspan><tspan font-size="6" dy="2">2</tspan></text>
<text x="366" y="417">Ti<tspan font-size="6" dy="2">3</tspan><tspan dy="-2">C</tspan><tspan font-size="6" dy="2">2</tspan><tspan dy="-2">O</tspan><tspan font-size="6" dy="2">x</tspan></text>
<text x="461" y="417">Ti<tspan font-size="6" dy="2">3</tspan><tspan dy="-2">C</tspan><tspan font-size="6" dy="2">2</tspan><tspan dy="-2">F</tspan><tspan font-size="6" dy="2">x</tspan></text>
<text x="554" y="417">Ti<tspan font-size="6" dy="2">3</tspan><tspan dy="-2">C</tspan><tspan font-size="6" dy="2">2</tspan><tspan dy="-2">Cl</tspan><tspan font-size="6" dy="2">x</tspan></text>
<text x="649" y="417">Ti<tspan font-size="6" dy="2">3</tspan><tspan dy="-2">C</tspan><tspan font-size="6" dy="2">2</tspan><tspan dy="-2">Br</tspan><tspan font-size="6" dy="2">x</tspan></text>
</g>

<!-- ===== Panel k ===== -->
<text x="212" y="437" font-size="12" fill="#111">k</text>
<line x1="227.3" y1="428" x2="227.3" y2="725" stroke="#b0b0b0" stroke-width="1"/>
<line x1="227" y1="725" x2="614" y2="725" stroke="#a0a0a0" stroke-width="1"/>
<g stroke="#a0a0a0" stroke-width="1">
<line x1="276" y1="725" x2="276" y2="721"/><line x1="324.6" y1="725" x2="324.6" y2="720"/><line x1="373" y1="725" x2="373" y2="721"/><line x1="421.5" y1="725" x2="421.5" y2="720"/><line x1="470" y1="725" x2="470" y2="721"/><line x1="565.5" y1="725" x2="565.5" y2="721"/><line x1="613.3" y1="725" x2="613.3" y2="720"/>
</g>
<g font-size="9" fill="#222" text-anchor="middle">
<text x="228" y="743">-6</text><text x="325" y="743">-4</text><text x="421" y="743">-2</text><text x="518" y="743">0</text><text x="614" y="743">2</text>
</g>
<text x="446" y="757" font-size="9" fill="#222" text-anchor="middle">E-E<tspan font-size="6" dy="2">f</tspan><tspan dy="-2"> / eV</tspan></text>
<text transform="translate(224,575) rotate(-90)" font-size="9" fill="#222" text-anchor="middle">TDOS</text>

<!-- baselines -->
<g stroke-width="1">
<line x1="227" y1="463" x2="613" y2="463" stroke="#eed4f2"/>
<line x1="227" y1="521" x2="613" y2="521" stroke="#cfe3cf"/>
<line x1="227" y1="579" x2="613" y2="579" stroke="#dde0f2"/>
<line x1="227" y1="637" x2="613" y2="637" stroke="#f5d6d0"/>
<line x1="227" y1="695" x2="613" y2="695" stroke="#d0f0ef"/>
</g>
<!-- Br -->
<g transform="translate(0,463)" fill="url(#dBr)">
<path d="M227,0 L232,-3 L240,-5 L246,-2 L252,-7 L258,-3 L264,-8 L270,-3 L276,-6 L281,-1 L286,-3 L291,-5 L296,-8 L300,-11 L305,-6 L310,-4 L316,-9 L322,-3 L328,-10 L333,-6 L338,-3 L343,-6 L349,-8 L355,-10 L360,-14 L364,-18 L368,-24 L372,-12 L377,-8 L382,-16 L387,-9 L392,-20 L397,-26 L401,-12 L406,-7 L412,-5 L418,-6 L424,-3 L430,-5 L435,0 L440,0 L444,-3 L448,0 L452,-4 L457,-8 L462,-3 L467,-10 L472,-2 L477,-6 L482,-10 L487,-4 L492,-9 L497,-3 L502,-5 L507,-2 L512,-3 L518,-5 L524,-6 L528,-10 L533,-8 L538,-14 L543,-10 L548,-16 L552,-12 L557,-9 L562,-11 L567,-15 L572,-12 L577,-10 L582,-13 L587,-18 L592,-10 L597,-15 L602,-12 L607,-18 L610,-23 L613,-18 L613,0 Z"/>
<path d="M227,0 L232,3 L240,8 L246,3 L252,9 L258,4 L264,6 L270,5 L276,9 L281,2 L286,4 L291,6 L296,5 L300,7 L305,8 L310,10 L316,6 L322,4 L328,8 L333,5 L338,4 L343,9 L349,5 L355,12 L360,20 L364,9 L368,26 L372,14 L377,9 L382,10 L387,11 L392,8 L397,22 L401,9 L406,8 L412,6 L418,5 L424,4 L430,4 L435,0 L440,0 L444,5 L448,0 L452,6 L457,5 L462,12 L467,5 L472,3 L477,12 L482,6 L487,3 L492,10 L497,4 L502,3 L507,2 L512,3 L518,3 L524,4 L528,8 L533,7 L538,6 L543,9 L548,15 L552,10 L557,8 L562,9 L567,12 L572,18 L577,8 L582,14 L587,10 L592,20 L597,11 L602,9 L607,12 L610,20 L613,18 L613,0 Z"/>
</g>
<!-- Cl -->
<g transform="translate(0,521)" fill="url(#dCl)">
<path d="M227,0 L227,-3 L232,-6 L237,-8 L242,-4 L247,-9 L252,-5 L257,-10 L262,-5 L267,-7 L272,-9 L277,-6 L282,-10 L287,-7 L292,-9 L297,-8 L302,-11 L307,-7 L312,-10 L318,-14 L323,-18 L328,-10 L333,-8 L338,-12 L344,-9 L350,-11 L356,-13 L361,-16 L366,-21 L371,-12 L376,-10 L381,-14 L386,-11 L392,-16 L397,-21 L402,-12 L407,-8 L412,-4 L418,-2 L424,-4 L429,-2 L435,-4 L440,-2 L445,-4 L450,-6 L455,-3 L460,-8 L465,-4 L470,-9 L475,-5 L480,-10 L483,-8 L487,-6 L492,-11 L496,-5 L500,-8 L505,-4 L510,-3 L516,-5 L522,-8 L528,-10 L533,-11 L538,-9 L543,-8 L548,-10 L553,-7 L558,-9 L563,-12 L568,-10 L573,-14 L578,-11 L583,-16 L588,-12 L593,-14 L598,-17 L603,-13 L608,-19 L613,-19 L613,0 Z"/>
<path d="M227,0 L227,3 L232,5 L237,7 L242,6 L247,8 L252,9 L257,6 L262,8 L267,10 L272,6 L277,8 L282,11 L287,6 L292,10 L297,7 L302,9 L307,8 L312,12 L318,9 L323,10 L328,14 L333,9 L338,10 L344,15 L350,8 L356,10 L361,13 L366,22 L371,14 L376,9 L381,11 L386,13 L392,10 L397,22 L402,11 L407,9 L412,5 L418,2 L424,3 L429,2 L435,4 L440,2 L445,4 L450,5 L455,4 L460,10 L465,6 L470,12 L475,7 L480,8 L483,16 L487,7 L492,10 L496,6 L500,13 L505,5 L510,3 L516,4 L522,5 L528,6 L533,7 L538,8 L543,9 L548,12 L553,14 L558,10 L563,8 L568,15 L573,12 L578,9 L583,13 L588,16 L593,10 L598,12 L603,14 L608,16 L613,16 L613,0 Z"/>
</g>
<!-- F -->
<g transform="translate(0,579)" fill="url(#dF)">
<path d="M227,0 L227,-3 L232,-6 L237,-10 L242,-4 L247,-7 L252,-3 L257,-8 L262,-12 L267,-5 L272,-9 L277,-4 L282,-11 L287,-6 L292,-9 L297,-5 L302,-8 L307,-12 L311,-16 L315,-21 L319,-8 L324,-6 L329,-11 L334,-9 L339,-7 L344,-12 L349,-5 L354,-10 L360,-8 L365,-14 L370,-10 L375,-16 L380,-11 L385,-8 L390,-13 L394,-9 L398,-24 L402,-10 L407,-8 L412,-6 L417,-9 L421,-4 L426,-7 L431,-3 L436,-6 L441,-3 L446,-7 L452,-10 L457,-6 L462,-12 L467,-7 L472,-10 L477,-5 L482,-9 L487,-13 L492,-6 L497,-10 L502,-4 L507,-3 L512,-4 L518,-6 L523,-8 L528,-10 L533,-7 L538,-12 L543,-9 L547,-6 L551,-10 L556,-8 L561,-12 L566,-15 L571,-9 L576,-13 L581,-10 L586,-16 L592,-12 L597,-9 L602,-14 L607,-11 L613,-20 L613,0 Z"/>
<path d="M227,0 L227,2 L232,3 L237,4 L242,3 L247,5 L252,2 L257,4 L262,6 L267,3 L272,5 L277,3 L282,8 L287,4 L292,6 L297,3 L302,5 L307,6 L311,9 L315,14 L319,5 L324,4 L329,7 L334,6 L339,5 L344,8 L349,4 L354,6 L360,5 L365,7 L370,6 L375,9 L380,7 L385,6 L390,9 L394,8 L398,21 L402,6 L407,5 L412,4 L417,6 L421,3 L426,4 L431,2 L436,4 L441,2 L446,4 L452,5 L457,3 L462,5 L467,4 L472,8 L477,3 L482,5 L487,6 L492,4 L497,7 L502,3 L507,2 L512,3 L518,3 L523,4 L528,6 L533,5 L538,8 L543,14 L547,22 L551,9 L556,6 L561,8 L566,9 L571,7 L576,10 L581,8 L586,11 L592,14 L597,21 L602,12 L607,10 L613,10 L613,0 Z"/>
</g>
<!-- Ox -->
<g transform="translate(0,637)" fill="url(#dO)">
<path d="M227,0 L227,-1 L233,-3 L240,-6 L247,-4 L254,-6 L260,-3 L264,-8 L270,-11 L275,-13 L281,-10 L286,-9 L292,-12 L298,-10 L304,-11 L310,-9 L316,-12 L322,-10 L328,-11 L334,-8 L340,-9 L343,-2 L347,-5 L352,-6 L356,-2 L360,-8 L364,-23 L368,-12 L372,-10 L376,-15 L380,-11 L384,-9 L388,-8 L392,-3 L398,-4 L404,-5 L410,-2 L414,-4 L418,-5 L422,-2 L428,-5 L433,-8 L438,-12 L443,-17 L447,-9 L450,-1 L486,-1 L490,-3 L496,-6 L501,-9 L506,-15 L511,-10 L515,-13 L520,-18 L525,-12 L530,-8 L535,-4 L538,-2 L542,-6 L547,-9 L552,-10 L557,-9 L562,-8 L567,-12 L571,-14 L575,-8 L580,-7 L585,-10 L590,-13 L595,-12 L600,-10 L605,-13 L610,-14 L613,-14 L613,0 Z"/>
<path d="M227,0 L227,1 L233,4 L240,6 L247,5 L254,6 L260,3 L264,7 L270,10 L275,9 L281,13 L286,10 L292,11 L298,9 L304,12 L310,10 L316,11 L322,10 L328,12 L334,9 L340,8 L343,2 L347,5 L352,6 L356,2 L360,10 L364,25 L368,10 L372,12 L376,11 L380,13 L384,10 L388,14 L392,3 L398,4 L404,5 L410,2 L414,4 L418,5 L422,2 L428,4 L433,5 L438,6 L443,8 L447,4 L450,1 L486,1 L490,3 L496,6 L501,8 L506,15 L511,9 L515,12 L520,16 L525,10 L530,9 L535,5 L538,2 L542,6 L547,8 L552,9 L557,8 L562,9 L567,10 L571,12 L575,7 L580,7 L585,10 L590,12 L595,14 L600,11 L605,13 L610,15 L613,15 L613,0 Z"/>
</g>
<!-- Ti3C2 -->
<g transform="translate(0,695)" fill="url(#dTi)">
<path d="M227,0 L244,-1 L250,-4 L256,-6 L262,-3 L268,-1 L272,-4 L276,-7 L282,-8 L287,-4 L292,-6 L296,-8 L300,-4 L304,-1 L310,0 L316,-2 L320,-8 L323,-21 L327,-12 L332,-10 L337,-8 L342,-9 L346,-4 L350,-2 L355,-6 L360,-9 L366,-10 L372,-12 L377,-15 L380,-28 L384,-16 L389,-12 L394,-10 L398,-3 L402,0 L407,-2 L411,-5 L415,-2 L420,-4 L425,-6 L429,-2 L435,0 L440,-3 L444,0 L452,-2 L457,-5 L461,-1 L465,-5 L469,-1 L478,-1 L482,-5 L486,-10 L490,-8 L495,-11 L500,-9 L505,-13 L510,-15 L514,-17 L518,-12 L523,-14 L528,-10 L532,-5 L536,-9 L541,-10 L546,-8 L551,-12 L555,-4 L560,-3 L565,-9 L570,-12 L575,-10 L580,-8 L585,-11 L590,-17 L594,-13 L599,-11 L604,-14 L609,-20 L613,-22 L613,0 Z"/>
<path d="M227,0 L244,1 L250,4 L256,6 L262,3 L268,1 L272,4 L276,7 L282,8 L287,4 L292,5 L296,8 L300,4 L304,1 L310,0 L316,2 L320,8 L323,22 L327,12 L332,11 L337,8 L342,9 L346,4 L350,2 L355,6 L360,9 L366,11 L372,12 L377,16 L380,27 L384,14 L389,11 L394,9 L398,3 L402,0 L407,2 L411,5 L415,2 L420,4 L425,6 L429,2 L435,0 L440,3 L444,0 L452,2 L457,5 L461,1 L465,5 L469,1 L478,1 L482,5 L486,8 L490,9 L495,10 L500,9 L505,10 L510,12 L514,13 L518,12 L523,10 L528,8 L532,5 L536,8 L541,9 L546,8 L551,10 L555,4 L560,3 L565,9 L570,11 L575,9 L580,8 L585,10 L590,12 L594,11 L599,10 L604,14 L609,20 L613,22 L613,0 Z"/>
</g>
<!-- insets -->
<g transform="translate(0,461)" fill="url(#dBr)"><path d="M639,0 L639,-2 L650,-2 L660,-3 L670,-6 L680,-8 L685,-8 L685,0 Z"/><path d="M639,0 L639,2 L655,2 L665,3 L675,5 L685,5 L685,0 Z"/></g>
<g transform="translate(0,519)" fill="url(#dCl)"><path d="M639,0 L639,-1 L650,-2 L660,-4 L672,-7 L685,-7 L685,0 Z"/><path d="M639,0 L639,2 L655,2 L665,3 L675,4 L685,4 L685,0 Z"/></g>
<g transform="translate(0,578)" fill="url(#dF)"><path d="M639,0 L639,-1 L655,-2 L665,-4 L672,-5 L685,-4 L685,0 Z"/><path d="M639,0 L639,2 L655,3 L665,4 L675,5 L685,6 L685,0 Z"/></g>
<g transform="translate(0,637)" fill="url(#dO)"><path d="M639,0 L639,-15 L648,-10 L658,-3 L668,-10 L676,-14 L685,-14 L685,0 Z"/><path d="M639,0 L639,15 L648,10 L658,3 L668,10 L676,13 L685,13 L685,0 Z"/></g>
<g transform="translate(0,695)" fill="url(#dTi)"><path d="M639,0 L639,-12 L650,-15 L667,-17 L677,-14 L685,-10 L685,0 Z"/><path d="M639,0 L639,12 L650,13 L667,13 L677,11 L685,8 L685,0 Z"/></g>
<line x1="670" y1="432" x2="670" y2="722" stroke="#8a8a8a" stroke-width="1" stroke-dasharray="1.5,1.5"/>
<!-- dashed box -->
<line x1="517.7" y1="431" x2="517.7" y2="723" stroke="#8a8a8a" stroke-width="1" stroke-dasharray="1.5,1.5"/>
<rect x="504.3" y="431" width="20" height="292" fill="none" stroke="#555" stroke-width="1" stroke-dasharray="4,3"/>
<!-- arrow -->
<path d="M532,549 L620,549 L620,543 L637,554 L620,565 L620,559 L532,559 Z" fill="url(#arrowG)"/>
<g font-size="9" fill="#222">
<text x="232" y="483">Ti<tspan font-size="6" dy="2">3</tspan><tspan dy="-2">C</tspan><tspan font-size="6" dy="2">2</tspan><tspan dy="-2">Br</tspan><tspan font-size="6" dy="2">x</tspan></text>
<text x="232" y="545">Ti<tspan font-size="6" dy="2">3</tspan><tspan dy="-2">C</tspan><tspan font-size="6" dy="2">2</tspan><tspan dy="-2">Cl</tspan><tspan font-size="6" dy="2">x</tspan></text>
<text x="232" y="605">Ti<tspan font-size="6" dy="2">3</tspan><tspan dy="-2">C</tspan><tspan font-size="6" dy="2">2</tspan><tspan dy="-2">F</tspan><tspan font-size="6" dy="2">x</tspan></text>
<text x="232" y="663">Ti<tspan font-size="6" dy="2">3</tspan><tspan dy="-2">C</tspan><tspan font-size="6" dy="2">2</tspan><tspan dy="-2">O</tspan><tspan font-size="6" dy="2">x</tspan></text>
<text x="232" y="715">Ti<tspan font-size="6" dy="2">3</tspan><tspan dy="-2">C</tspan><tspan font-size="6" dy="2">2</tspan></text>
</g>
</svg>
</body></html>
